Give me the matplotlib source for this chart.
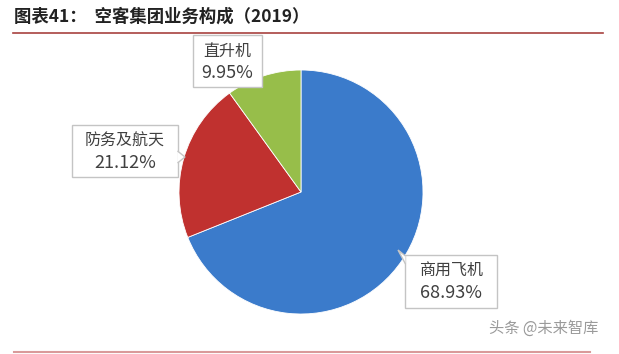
import matplotlib.pyplot as plt
from matplotlib.patches import Polygon, Rectangle

plt.rcParams['font.family'] = ['Noto Sans CJK SC', 'DejaVu Sans']

# 数据
categories = ['商用飞机', '防务及航天', '直升机']
shares = [68.93, 21.12, 9.95]
colors = ['#3b7bcb', '#c0312f', '#97be4a']

W, H = 619, 354
fig = plt.figure(figsize=(W / 100, H / 100), dpi=100)


def fx(x):
    return x / W


def fy(y):
    return 1 - y / H


# 标题和分隔线
fig.text(fx(14), fy(17), '图表41：  空客集团业务构成（2019）', fontsize=12.5,
         fontweight='bold', color='#222222', va='center', ha='left')
fig.add_artist(plt.Line2D([fx(13), fx(603)], [fy(33), fy(33)], color='#a8423f', lw=1.2))
fig.add_artist(plt.Line2D([fx(14), fx(590)], [fy(352), fy(352)], color='#d99a9a', lw=1.5))

# 饼图
cx, cy, r = 301, 192, 122
ax = fig.add_axes([fx(cx - r), fy(cy + r), 2 * r / W, 2 * r / H])
ax.pie(shares, colors=colors, startangle=90, counterclock=False,
       wedgeprops=dict(edgecolor='white', linewidth=0.6))
ax.set_xlim(-1, 1)
ax.set_ylim(-1, 1)
ax.set_aspect('equal')
ax.axis('off')

# 标注框：(左, 上, 右, 下) 像素，指针 (边, y)
boxes = {
    '商用飞机': ((405, 255, 497, 308), ('left', 262)),
    '防务及航天': ((72, 125, 178, 177), ('right', 157)),
    '直升机': ((193, 35, 262, 87), None),
}
for name, val in zip(categories, shares):
    (x0, y0, x1, y1), ptr = boxes[name]
    fig.add_artist(Rectangle((fx(x0), fy(y1)), fx(x1 - x0), (y1 - y0) / H,
                             transform=fig.transFigure, facecolor='white',
                             edgecolor='#c4c4c4', lw=1, zorder=5))
    if ptr is not None:
        side, py = ptr
        if side == 'left':
            pts = [(x0 + 0.5, py - 6), (x0 - 7, py - 12), (x0 + 0.5, py + 2)]
        else:
            pts = [(x1 - 0.5, py - 6), (x1 + 7, py), (x1 - 0.5, py + 6)]
        fig.add_artist(Polygon([(fx(a), fy(b)) for a, b in pts], closed=False,
                               transform=fig.transFigure, facecolor='white',
                               edgecolor='#c4c4c4', lw=1, zorder=6))
    xm = (x0 + x1) / 2
    fig.text(fx(xm), fy(y0 + 16), name, fontsize=11.5, color='#404040',
             ha='center', va='center', zorder=7)
    fig.text(fx(xm), fy(y0 + 38), f'{val:.2f}%', fontsize=13, color='#404040',
             ha='center', va='center', zorder=7)

# 水印
fig.text(fx(598), fy(328), '头条 @未来智库', fontsize=11, color='#9a9a9a',
         ha='right', va='center')

fig.savefig('out.png', dpi=100)
